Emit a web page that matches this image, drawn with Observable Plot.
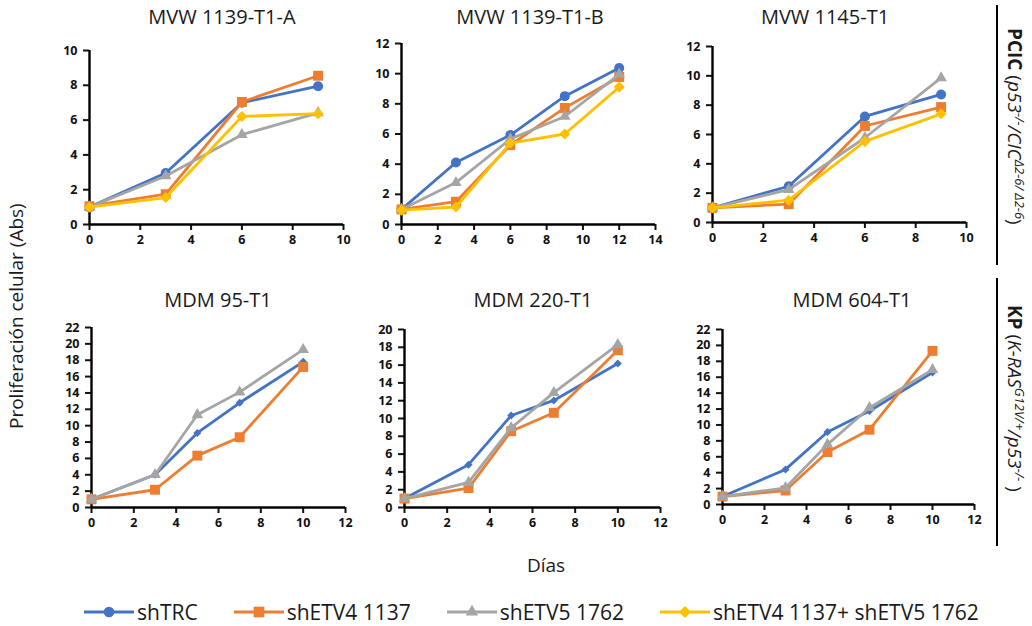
<!DOCTYPE html>
<html><head><meta charset="utf-8">
<script src="https://cdn.jsdelivr.net/npm/d3@7"></script>
<script src="https://cdn.jsdelivr.net/npm/@observablehq/plot@0.6"></script>
<style>
html,body{margin:0;padding:0;background:#fff;}
#root{position:relative;width:1032px;height:626px;overflow:hidden;font-family:"Open Sans",sans-serif;color:#1a1a1a;}
.abs{position:absolute;white-space:nowrap;}
.title{position:absolute;font-size:20px;white-space:nowrap;transform:translateX(-50%);}
.side{position:absolute;font-size:19px;line-height:1.7;white-space:nowrap;transform-origin:0 0;transform:rotate(90deg);}
.side sup{font-size:13px;line-height:0;}
.vline{position:absolute;width:2px;background:#000;}
#legend{position:absolute;left:84px;top:598px;display:flex;align-items:center;gap:36px;font-size:21px;white-space:nowrap;}
.leg{display:flex;align-items:center;}
</style></head>
<body><div id="root"></div>
<script>
// ---- data ----
const seriesNames = ["shTRC", "shETV4 1137", "shETV5 1762", "shETV4 1137+ shETV5 1762"];
const colors = ["#4472C4", "#ED7D31", "#A5A5A5", "#FFC000"];

const titles = ["MVW 1139-T1-A", "MVW 1139-T1-B", "MVW 1145-T1", "MDM 95-T1", "MDM 220-T1", "MDM 604-T1"];

const days1 = [0, 3, 6, 9];
const p1_shTRC = [1.0, 2.96, 7.0, 7.95];
const p1_shETV4 = [1.05, 1.74, 7.04, 8.55];
const p1_shETV5 = [1.0, 2.79, 5.16, 6.42];
const p1_both = [1.0, 1.55, 6.21, 6.37];

const days2 = [0, 3, 6, 9, 12];
const p2_shTRC = [1.0, 4.11, 5.93, 8.51, 10.38];
const p2_shETV4 = [1.0, 1.51, 5.27, 7.73, 9.78];
const p2_shETV5 = [1.0, 2.78, 5.67, 7.16, 9.96];
const p2_both = [0.95, 1.16, 5.4, 6.0, 9.11];

const days3 = [0, 3, 6, 9];
const p3_shTRC = [1.0, 2.47, 7.23, 8.73];
const p3_shETV4 = [1.0, 1.25, 6.58, 7.87];
const p3_shETV5 = [1.0, 2.24, 5.78, 9.86];
const p3_both = [1.0, 1.52, 5.53, 7.41];

const days4 = [0, 3, 5, 7, 10];
const p4_shTRC = [1.0, 4.0, 9.12, 12.8, 17.8];
const p4_shETV4 = [1.0, 2.17, 6.34, 8.59, 17.18];
const p4_shETV5 = [1.0, 4.0, 11.33, 14.1, 19.3];

const days5 = [0, 3, 5, 7, 10];
const p5_shTRC = [1.0, 4.81, 10.34, 12.03, 16.17];
const p5_shETV4 = [1.0, 2.18, 8.57, 10.64, 17.67];
const p5_shETV5 = [1.0, 2.82, 8.95, 12.9, 18.3];

const days6 = [0, 3, 5, 7, 10];
const p6_shTRC = [1.0, 4.41, 9.11, 11.75, 16.58];
const p6_shETV4 = [1.0, 1.76, 6.59, 9.4, 19.31];
const p6_shETV5 = [1.0, 2.1, 7.56, 12.17, 16.96];

const xMax = [10, 14, 10, 12, 12, 12];
const yMax = [10, 12, 12, 22, 20, 22];

// ---- layout (frame pixel positions of each panel: x=0, x=max, y=0, y=max) ----
const frames = [
  [89, 343, 224, 50], [401, 655, 224, 43], [712, 966, 222, 46],
  [91, 345, 507, 327], [404, 660, 507, 329], [722, 974, 504, 329]
];
const titlePos = [[222, 3], [530, 3], [825, 3], [218, 286], [533, 286], [852, 286]];

const panelData = [
  [days1, [p1_shTRC, p1_shETV4, p1_shETV5, p1_both]],
  [days2, [p2_shTRC, p2_shETV4, p2_shETV5, p2_both]],
  [days3, [p3_shTRC, p3_shETV4, p3_shETV5, p3_both]],
  [days4, [p4_shTRC, p4_shETV4, p4_shETV5]],
  [days5, [p5_shTRC, p5_shETV4, p5_shETV5]],
  [days6, [p6_shTRC, p6_shETV4, p6_shETV5]]
];

const root = document.getElementById("root");
const ml = 40, mr = 18, mt = 10, mb = 32;

function symFor(si, bottom) {
  if (si === 0) return bottom ? {symbol: "diamond2", r: 3.6} : {symbol: "circle", r: 5};
  if (si === 1) return {symbol: "square", r: 5.6};
  if (si === 2) return {symbol: "triangle", r: 4.3};
  return {symbol: "diamond2", r: 5};
}

panelData.forEach(([days, series], pi) => {
  const [x0, x1, y0, y1] = frames[pi];
  const bottom = pi >= 3;
  const marks = [];
  marks.push(Plot.axisX({ticks: d3.range(0, xMax[pi] + 1, 2), tickSize: 6, tickPadding: 5, strokeWidth: 2, label: null, fontWeight: "bold"}));
  marks.push(Plot.axisY({ticks: d3.range(0, yMax[pi] + 1, 2), tickSize: 6, tickPadding: 6, strokeWidth: 2, label: null, fontWeight: "bold"}));
  marks.push(Plot.ruleY([0], {stroke: "#000", strokeWidth: 2.4}));
  marks.push(Plot.ruleX([0], {stroke: "#000", strokeWidth: 2.4}));
  series.forEach((vals, si) => {
    const rows = days.map((d, i) => ({d, v: vals[i]}));
    marks.push(Plot.line(rows, {x: "d", y: "v", stroke: colors[si], strokeWidth: 2.8}));
    const s = symFor(si, bottom);
    marks.push(Plot.dot(rows, {x: "d", y: "v", fill: colors[si], stroke: "none", symbol: s.symbol, r: s.r}));
  });
  const chart = Plot.plot({
    width: (x1 - x0) + ml + mr,
    height: (y0 - y1) + mt + mb,
    marginLeft: ml, marginRight: mr, marginTop: mt, marginBottom: mb,
    x: {domain: [0, xMax[pi]]},
    y: {domain: [0, yMax[pi]]},
    style: {fontFamily: "'Open Sans', sans-serif", fontSize: "12.5px", color: "#111", background: "transparent", overflow: "visible"},
    marks
  });
  chart.style.position = "absolute";
  chart.style.left = (x0 - ml) + "px";
  chart.style.top = (y1 - mt) + "px";
  root.appendChild(chart);

  const t = document.createElement("div");
  t.className = "title";
  t.textContent = titles[pi];
  t.style.left = titlePos[pi][0] + "px";
  t.style.top = titlePos[pi][1] + "px";
  root.appendChild(t);
});

// axis titles
const yl = document.createElement("div");
yl.className = "abs";
yl.style.cssText += "font-size:19px;transform:rotate(-90deg);transform-origin:0 0;left:3px;";
yl.textContent = "Proliferación celular (Abs)";
root.appendChild(yl);
yl.style.top = (316 + yl.offsetWidth / 2) + "px";

const xl = document.createElement("div");
xl.className = "title";
xl.style.fontSize = "19px";
xl.style.left = "546px"; xl.style.top = "552px";
xl.textContent = "Días";
root.appendChild(xl);

// side labels
const v1 = document.createElement("div"); v1.className = "vline";
v1.style.cssText += "left:996px;top:5px;height:260px;"; root.appendChild(v1);
const v2 = document.createElement("div"); v2.className = "vline";
v2.style.cssText += "left:996px;top:278px;height:268px;"; root.appendChild(v2);

const s1 = document.createElement("div"); s1.className = "side";
s1.style.left = "1031px"; s1.style.top = "28px";
s1.innerHTML = "<b>PCIC</b> (<i>p53<sup>-/-</sup>/CIC<sup>Δ2-6/ Δ2-6</sup></i>)";
root.appendChild(s1);
const s2 = document.createElement("div"); s2.className = "side";
s2.style.left = "1031px"; s2.style.top = "305px";
s2.innerHTML = "<b>KP</b> (<i>K-RAS<sup>G12V/+</sup>/p53<sup>-/-</sup></i> )";
root.appendChild(s2);

// legend
const legend = document.createElement("div");
legend.id = "legend";
root.appendChild(legend);
seriesNames.forEach((name, si) => {
  const item = document.createElement("div");
  item.className = "leg";
  const svg = d3.create("svg").attr("width", 50).attr("height", 24);
  svg.append("line").attr("x1", 0).attr("x2", 50).attr("y1", 12).attr("y2", 12).attr("stroke", colors[si]).attr("stroke-width", 3);
  const s = symFor(si, false);
  const symType = {circle: d3.symbolCircle, square: d3.symbolSquare, triangle: d3.symbolTriangle, diamond2: d3.symbolDiamond2}[s.symbol];
  svg.append("path").attr("transform", "translate(25,12)").attr("d", d3.symbol(symType, Math.PI * s.r * s.r * 1.15)()).attr("fill", colors[si]);
  item.appendChild(svg.node());
  const tx = document.createElement("span");
  tx.textContent = name;
  tx.style.marginLeft = "3px";
  item.appendChild(tx);
  legend.appendChild(item);
});
</script>
</body></html>
